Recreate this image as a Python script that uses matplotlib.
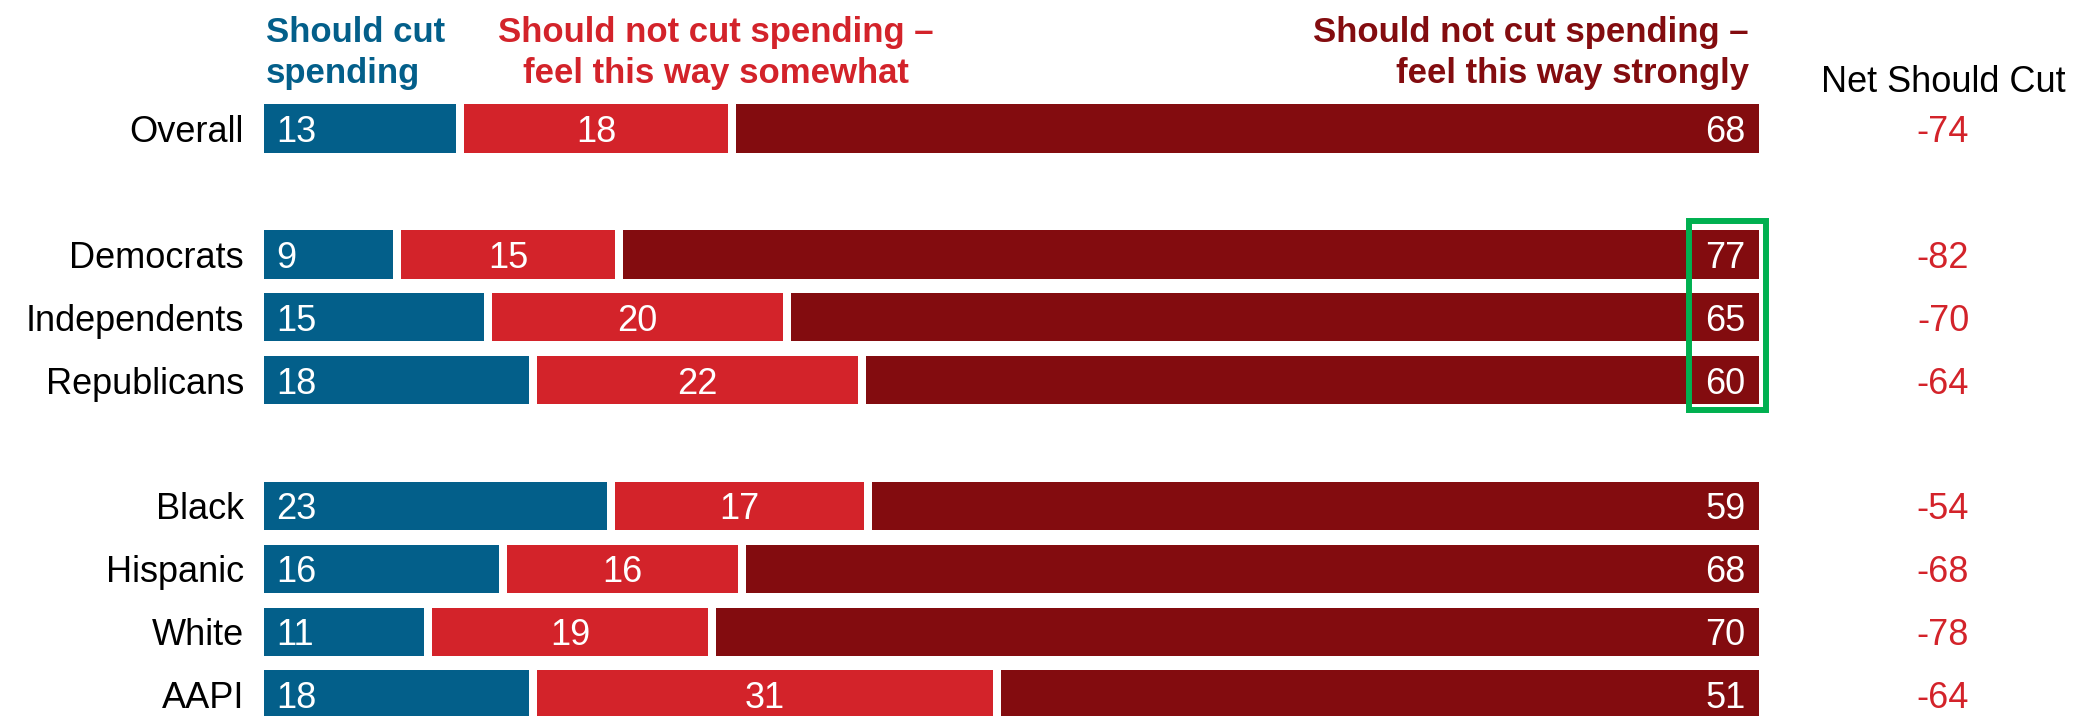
import matplotlib
matplotlib.use("Agg")
import matplotlib.pyplot as plt
from matplotlib.patches import Rectangle

# ---------------- data ----------------
groups = [["Overall"],
          ["Democrats", "Independents", "Republicans"],
          ["Black", "Hispanic", "White", "AAPI"]]
categories = [c for g in groups for c in g]
cut = [13, 9, 15, 18, 23, 16, 11, 18]
somewhat = [18, 15, 20, 22, 17, 16, 19, 31]
strongly = [68, 77, 65, 60, 59, 68, 70, 51]
net = [-74, -82, -70, -64, -54, -68, -78, -64]
series_names = ["Should cut\nspending",
                "Should not cut spending –\nfeel this way somewhat",
                "Should not cut spending –\nfeel this way strongly"]
net_title = "Net Should Cut"
highlight = ["Democrats", "Independents", "Republicans"]

# ---------------- style ----------------
BLUE = "#035F8A"
RED = "#D3232A"
DARK = "#830C0F"
GREEN = "#00B050"
FONT = ["Liberation Sans", "DejaVu Sans"]
plt.rcParams["font.family"] = FONT

# row positions: blank row between groups
pos = []
r = 0
for g in groups:
    for _ in g:
        pos.append(r)
        r += 1
    r += 1

fig = plt.figure(figsize=(21, 7.16), dpi=100)
ax = fig.add_axes([0, 0, 1, 1])
ax.set_xlim(-17.65, 122.8)
ax.set_ylim(9.34, -2.045)
ax.axis("off")

gap = 0.535
height = 0.77
FS = 26

series = [cut, somewhat, strongly]
colors = [BLUE, RED, DARK]
n = len(categories)
totals = [sum(s[i] for s in series) for i in range(n)]
starts = [0.0] * n
for j, (vals, col) in enumerate(zip(series, colors)):
    lefts, widths = [], []
    for i in range(n):
        w = vals[i] / totals[i] * 100
        l0 = starts[i] + (gap / 2 if j > 0 else 0)
        r0 = starts[i] + w - (gap / 2 if j < len(series) - 1 else 0)
        lefts.append(l0)
        widths.append(r0 - l0)
        starts[i] += w
    ax.barh(pos, widths, left=lefts, height=height, color=col, edgecolor="none")
    for i in range(n):
        if j == 0:
            x, ha = lefts[i] + 0.8, "left"
        elif j == len(series) - 1:
            x, ha = lefts[i] + widths[i] - 0.9, "right"
        else:
            x, ha = lefts[i] + widths[i] / 2, "center"
        ax.text(x, pos[i], str(vals[i]), ha=ha, va="center_baseline",
                color="white", fontsize=FS)

# category labels
for i, c in enumerate(categories):
    ax.text(-1.34, pos[i], c, ha="right", va="center_baseline",
            color="black", fontsize=FS)

# net column
NETX = 112.3
for i, v in enumerate(net):
    ax.text(NETX, pos[i], str(v), ha="center", va="center_baseline",
            color=RED, fontsize=FS)
ax.text(NETX, -0.587, net_title, ha="center", va="baseline",
        color="black", fontsize=FS)

# series headers
hdr_x = [0.15, 30.2, 99.3]
hdr_ha = ["left", "center", "right"]
base = [-1.382, -0.72]
for name, col, x, ha in zip(series_names, colors, hdr_x, hdr_ha):
    for k, line in enumerate(name.split("\n")):
        ax.text(x, base[k], line, ha=ha, va="baseline", color=col,
                fontsize=FS - 1, fontweight="bold")

# highlight box
hp = [pos[categories.index(h)] for h in highlight]
box = Rectangle((100 - 4.67, min(hp) - 0.53), 5.15, max(hp) - min(hp) + 1.0,
                fill=False, edgecolor=GREEN, linewidth=4.3, clip_on=False)
ax.add_patch(box)

fig.savefig("out.png", dpi=100)
